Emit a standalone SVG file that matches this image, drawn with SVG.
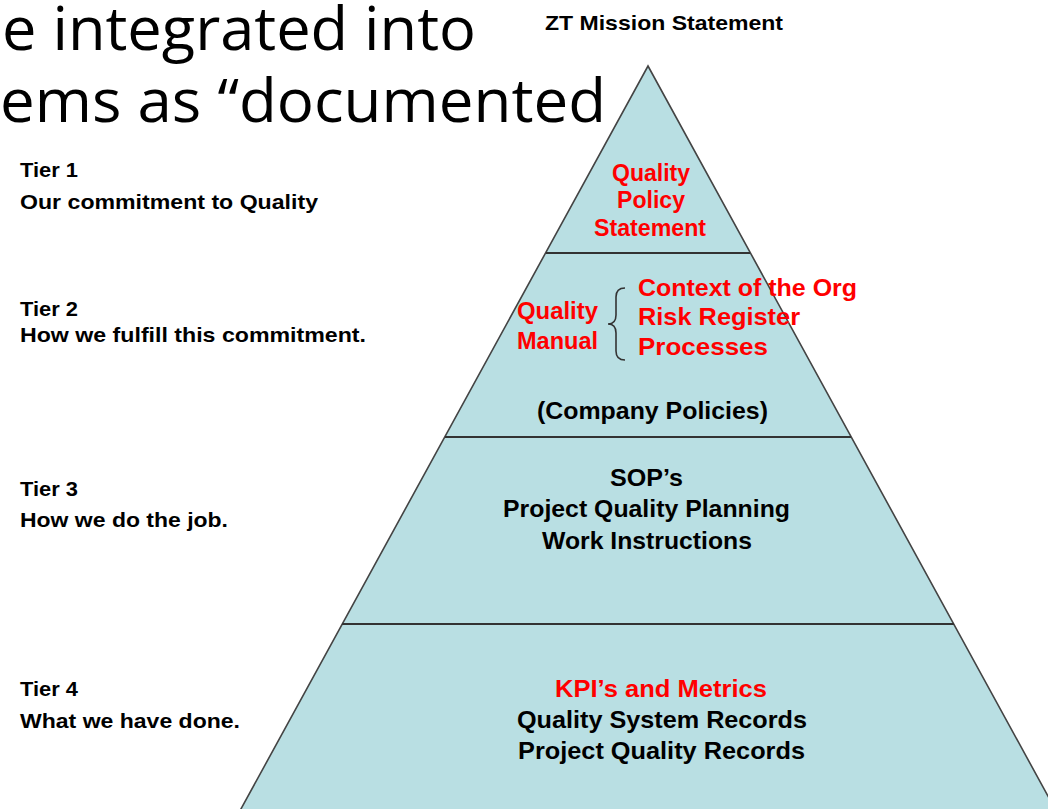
<svg xmlns="http://www.w3.org/2000/svg" width="1048" height="809" viewBox="0 0 1048 809">
  <style>
    .title { font-family: "Open Sans", "Noto Sans", sans-serif; font-size: 60px; fill: #000; }
    .lbl { font-family: "Liberation Sans", Arial, sans-serif; font-weight: bold; font-size: 21px; fill: #000; }
    .pt { font-family: "Liberation Sans", Arial, sans-serif; font-weight: bold; font-size: 24px; fill: #000; }
    .red { fill: #ff0000; }
    .edge { fill: #b9dfe3; stroke: #444; stroke-width: 1.6; stroke-linejoin: miter; }
    .divider { stroke: #333; stroke-width: 2.2; fill: none; }
    .brace { stroke: #333; stroke-width: 1.6; fill: none; }
  </style>

  <rect width="1048" height="809" fill="#fff"/>

  <!-- slide heading, cut off at the left edge -->
  <g id="heading">
    <text class="title" x="2" y="50" textLength="474" lengthAdjust="spacingAndGlyphs">e integrated into</text>
    <text class="title" x="0" y="122" textLength="606" lengthAdjust="spacingAndGlyphs">ems as “documented</text>
  </g>

  <g id="mission">
    <text class="lbl" x="545" y="30" textLength="238" lengthAdjust="spacingAndGlyphs">ZT Mission Statement</text>
  </g>

  <!-- pyramid body and tier dividers -->
  <g id="connectors">
    <polygon class="edge" points="648,66 1060,818 236,818"/>
    <line class="divider" x1="546" y1="253" x2="750" y2="253"/>
    <line class="divider" x1="445" y1="437" x2="851" y2="437"/>
    <line class="divider" x1="342" y1="624" x2="954" y2="624"/>
  </g>

  <!-- tier captions on the left -->
  <g id="tier-labels">
    <text class="lbl" x="20" y="177" textLength="58" lengthAdjust="spacingAndGlyphs">Tier 1</text>
    <text class="lbl" x="20" y="209" textLength="298" lengthAdjust="spacingAndGlyphs">Our commitment to Quality</text>
    <text class="lbl" x="20" y="316" textLength="58" lengthAdjust="spacingAndGlyphs">Tier 2</text>
    <text class="lbl" x="20" y="342" textLength="346" lengthAdjust="spacingAndGlyphs">How we fulfill this commitment.</text>
    <text class="lbl" x="20" y="496" textLength="58" lengthAdjust="spacingAndGlyphs">Tier 3</text>
    <text class="lbl" x="20" y="527" textLength="208" lengthAdjust="spacingAndGlyphs">How we do the job.</text>
    <text class="lbl" x="20" y="696" textLength="58" lengthAdjust="spacingAndGlyphs">Tier 4</text>
    <text class="lbl" x="20" y="728" textLength="220" lengthAdjust="spacingAndGlyphs">What we have done.</text>
  </g>

  <g id="tier1">
    <text class="pt red" x="612" y="181" textLength="78" lengthAdjust="spacingAndGlyphs">Quality</text>
    <text class="pt red" x="617" y="208" textLength="68" lengthAdjust="spacingAndGlyphs">Policy</text>
    <text class="pt red" x="594" y="236" textLength="112" lengthAdjust="spacingAndGlyphs">Statement</text>
  </g>

  <g id="tier2">
    <text class="pt red" x="517" y="319" textLength="81" lengthAdjust="spacingAndGlyphs">Quality</text>
    <text class="pt red" x="517" y="349" textLength="81" lengthAdjust="spacingAndGlyphs">Manual</text>
    <path class="brace" d="M625,288 Q616,288 616,297 L616,315 Q616,324 608,324 Q616,324 616,333 L616,351 Q616,360 625,360"/>
    <text class="pt red" x="638" y="296" textLength="219" lengthAdjust="spacingAndGlyphs">Context of the Org</text>
    <text class="pt red" x="638" y="325" textLength="162" lengthAdjust="spacingAndGlyphs">Risk Register</text>
    <text class="pt red" x="638" y="355" textLength="130" lengthAdjust="spacingAndGlyphs">Processes</text>
    <text class="pt" x="537" y="419" textLength="231" lengthAdjust="spacingAndGlyphs">(Company Policies)</text>
  </g>

  <g id="tier3">
    <text class="pt" x="610" y="486" textLength="73" lengthAdjust="spacingAndGlyphs">SOP’s</text>
    <text class="pt" x="503" y="517" textLength="287" lengthAdjust="spacingAndGlyphs">Project Quality Planning</text>
    <text class="pt" x="542" y="549" textLength="210" lengthAdjust="spacingAndGlyphs">Work Instructions</text>
  </g>

  <g id="tier4">
    <text class="pt red" x="555" y="697" textLength="212" lengthAdjust="spacingAndGlyphs">KPI’s and Metrics</text>
    <text class="pt" x="517" y="728" textLength="290" lengthAdjust="spacingAndGlyphs">Quality System Records</text>
    <text class="pt" x="518" y="759" textLength="287" lengthAdjust="spacingAndGlyphs">Project Quality Records</text>
  </g>
</svg>
